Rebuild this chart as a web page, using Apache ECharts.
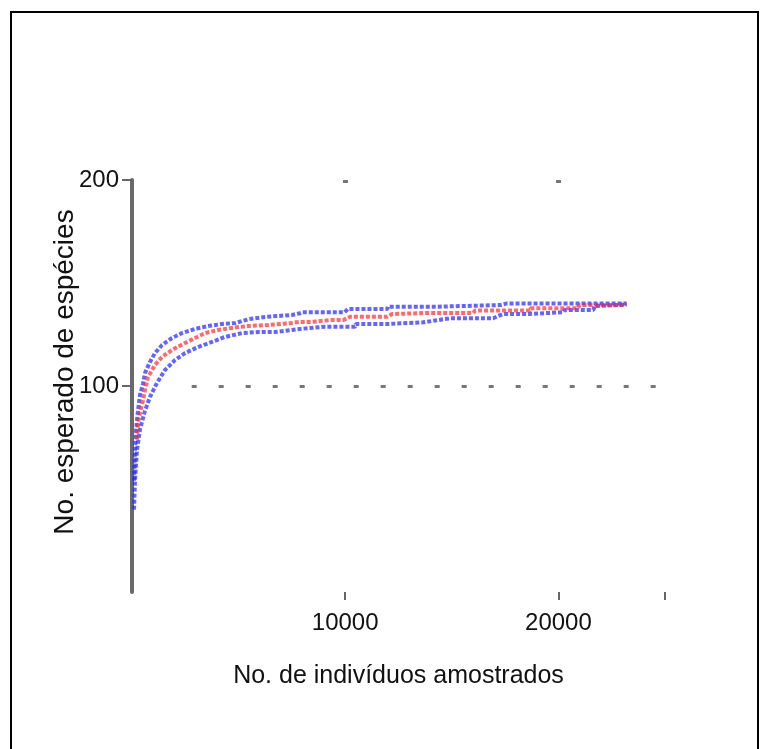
<!DOCTYPE html>
<html>
<head>
<meta charset="utf-8">
<script src="https://cdn.jsdelivr.net/npm/echarts@6/dist/echarts.min.js"></script>
<style>
  html, body { margin: 0; padding: 0; background: #fff; }
  #chart { position: absolute; left: 0; top: 0; width: 771px; height: 749px; }
  #frame { position: absolute; left: 10px; top: 11px; width: 745px; height: 800px; border: 2.5px solid #000; pointer-events: none; }
</style>
</head>
<body>
<div id="chart"></div>
<div id="frame"></div>
<script>
// ---- data ----
const xTickValues = [10000, 20000];
const xEndTick = 25000;
const yTickValues = [100, 200];
const xTitle = 'No. de indivíduos amostrados';
const yTitle = 'No. esperado de espécies';

const meanX = [235, 280, 375, 515, 610, 750, 1080, 1410, 1880, 2490, 2960, 3430, 4040, 4690, 5440, 6380, 7500, 7880, 8400, 9300, 9900, 10230, 11970, 12200, 13660, 16000, 16100, 18670, 18700, 20900, 21000, 22770, 23150];
const meanY = [74, 82, 87, 93, 98, 104.4, 110.2, 114.1, 117.5, 120.9, 123.3, 125.7, 127.2, 128.2, 129.1, 129.6, 130.6, 131.1, 131.1, 132, 132, 133.6, 133.6, 134.9, 135.4, 135.4, 136.6, 136.6, 137.7, 137.7, 139.3, 139.3, 139.8];

const upperX = [94, 140, 190, 280, 375, 515, 610, 845, 1080, 1410, 1880, 2350, 2960, 3570, 4230, 4840, 5500, 6240, 7510, 7880, 8000, 9970, 10130, 11970, 12000, 14320, 14400, 17280, 17600, 23200];
const upperY = [54, 69, 78.6, 88, 95.6, 101, 106.3, 111.7, 116, 119.9, 123.3, 125.7, 127.7, 129.1, 130.1, 130.6, 132.5, 133.5, 134.5, 135.3, 135.8, 135.8, 137.4, 137.4, 138.5, 138.5, 139.3, 139.3, 140.1, 140.1];

const lowerX = [94, 140, 235, 375, 610, 845, 1170, 1550, 2020, 2490, 3100, 3750, 4360, 5160, 5910, 6710, 7510, 7880, 9060, 10470, 10500, 11970, 12000, 13660, 14930, 16940, 17410, 18670, 18700, 20230, 20300, 21640, 21700, 23200];
const lowerY = [40, 54, 69, 79, 88, 94.7, 101.5, 107.8, 112.6, 116, 118.9, 121.4, 123.8, 125.7, 126.2, 126.2, 127.2, 127.7, 128.8, 128.8, 130.1, 130.1, 130.9, 130.9, 132.9, 132.9, 135, 135, 135.8, 135.8, 136.9, 136.9, 138.8, 139.5];

const refLineY = 100;
const refLineX = [2800, 25000];

// ---- chart ----
const zip = (xs, ys) => xs.map((x, i) => [x, ys[i]]);
const FONT = 'Liberation Sans';
const plain = (v) => String(v);

const chart = echarts.init(document.getElementById('chart'), null, { renderer: 'canvas' });

const curveStyle = (color) => ({
  type: 'line',
  showSymbol: false,
  symbol: 'none',
  smooth: false,
  lineStyle: { color: color, width: 4, type: [4, 2], opacity: 0.7 },
  z: 3
});

chart.setOption({
  animation: false,
  backgroundColor: '#fff',
  grid: { left: 132, right: 106, top: 180, bottom: 157 },
  xAxis: [
    {
      type: 'value', position: 'bottom', min: 0, max: xEndTick,
      axisLine: { show: false },
      axisTick: { show: true, customValues: xTickValues.concat([xEndTick]), length: 8, inside: false, lineStyle: { color: '#666', width: 2 } },
      axisLabel: { customValues: xTickValues, formatter: plain, margin: 19, fontFamily: FONT, fontSize: 24, color: '#111' },
      splitLine: { show: false },
      name: xTitle, nameLocation: 'middle', nameGap: 72,
      nameTextStyle: { fontFamily: FONT, fontSize: 25, color: '#111' }
    },
    {
      type: 'value', position: 'top', min: 0, max: xEndTick,
      axisLine: { show: false },
      axisTick: { show: true, customValues: xTickValues, length: 3, inside: true, lineStyle: { color: '#777', width: 5 } },
      axisLabel: { show: false },
      splitLine: { show: false }
    }
  ],
  yAxis: {
    type: 'value', min: 0, max: 200, interval: 100,
    axisLine: { show: true, lineStyle: { color: '#6a6a6a', width: 4 } },
    axisTick: { show: true, customValues: yTickValues, length: 10, lineStyle: { color: '#666', width: 2 } },
    axisLabel: { customValues: yTickValues, formatter: plain, margin: 13, fontFamily: FONT, fontSize: 24, color: '#111' },
    splitLine: { show: false },
    name: yTitle, nameLocation: 'middle', nameGap: 53, nameMoveOverlap: false,
    nameTextStyle: { fontFamily: FONT, fontSize: 28, color: '#111', padding: [0, 0, 0, 28] }
  },
  series: [
    Object.assign(curveStyle('#2222ff'), { name: 'lower', data: zip(lowerX, lowerY) }),
    Object.assign(curveStyle('#2222ff'), { name: 'upper', data: zip(upperX, upperY) }),
    Object.assign(curveStyle('#ff2a2a'), { name: 'mean', data: zip(meanX, meanY), z: 4,
      markLine: {
        silent: true, symbol: 'none', label: { show: false },
        lineStyle: { color: '#777', width: 3, type: [5, 22] },
        data: [[{ coord: [refLineX[0], refLineY] }, { coord: [refLineX[1], refLineY] }]]
      }
    })
  ]
});
</script>
</body>
</html>
